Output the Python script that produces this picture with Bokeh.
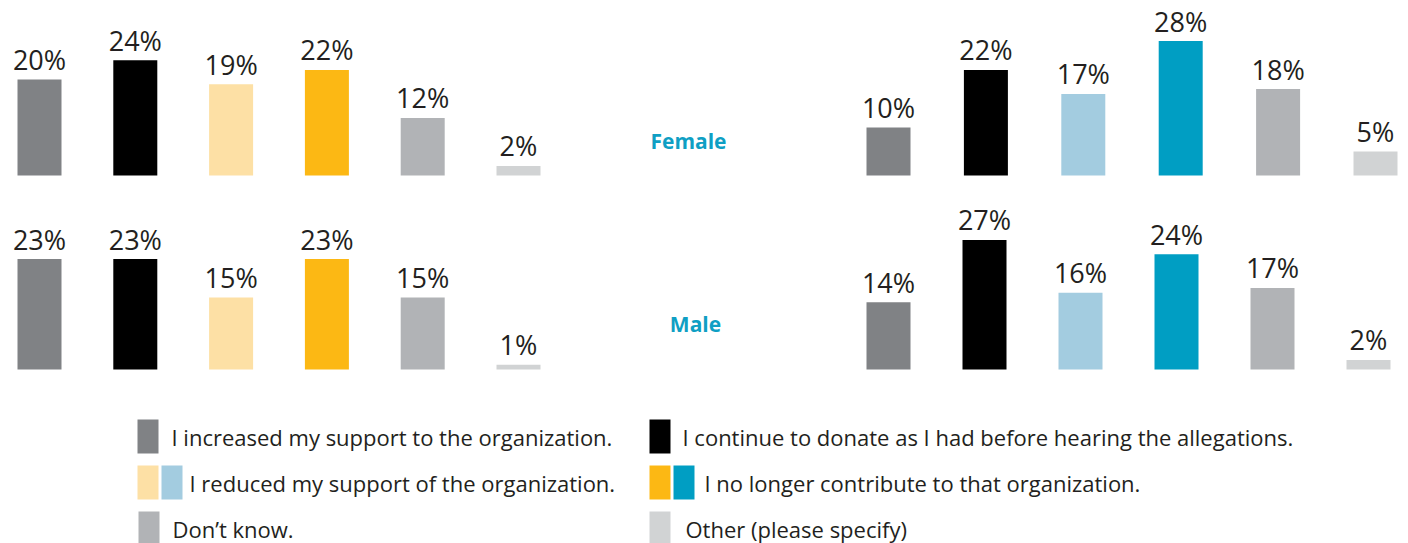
from bokeh.plotting import figure
from bokeh.models import Range1d, Label, ColumnDataSource
from bokeh.transform import dodge
from bokeh.embed import file_html
from bokeh.resources import INLINE
from bokeh.core.properties import value

# ---- data ----
answers = ["I increased my support to the organization.",
           "I continue to donate as I had before hearing the allegations.",
           "I reduced my support of the organization.",
           "I no longer contribute to that organization.",
           "Don\u2019t know.",
           "Other (please specify)"]
groups = ["Female", "Male"]
left_female = [20, 24, 19, 22, 12, 2]
left_male = [23, 23, 15, 23, 15, 1]
right_female = [10, 22, 17, 28, 18, 5]
right_male = [14, 27, 16, 24, 17, 2]
left_colors = ["#808285", "#000000", "#fde0a5", "#fcb814", "#b1b3b6", "#d1d3d4"]
right_colors = ["#808285", "#000000", "#a3cce0", "#009ec3", "#b1b3b6", "#d1d3d4"]

W, H = 1408, 543
FONT = "Open Sans"
TXT = "#231f20"

p = figure(width=W, height=H, output_backend="svg", toolbar_location=None,
           x_axis_location=None, y_axis_location=None, min_border=0,
           x_range=Range1d(0, W), y_range=Range1d(H, 0))
p.outline_line_color = None
p.grid.visible = False
p.background_fill_color = "white"

PX_PER_PCT = 4.8
def xr(first_center, spacing):
    return Range1d(-first_center / spacing, (W - first_center) / spacing)
def yr(base_from_top):
    b = H - base_from_top
    return Range1d(-b / PX_PER_PCT, base_from_top / PX_PER_PCT)

spL, spRT, spRB = 95.8, 97.4, 96.0
p.extra_x_ranges = {"L": xr(39, spL), "RT": xr(888, spRT), "RB": xr(888, spRB)}
p.extra_y_ranges = {"top": yr(175), "bot": yr(369)}

idx = list(range(len(answers)))
panels = [(left_female, left_colors, "L", "top", spL),
          (left_male, left_colors, "L", "bot", spL),
          (right_female, right_colors, "RT", "top", spRT),
          (right_male, right_colors, "RB", "bot", spRB)]
LABEL_GAP = 20 / PX_PER_PCT
for vals, cols, xn, yn, sp in panels:
    src = ColumnDataSource(dict(x=idx, v=vals, c=cols, t=[f"{v}%" for v in vals]))
    p.vbar(x="x", top="v", bottom=0, width=44 / sp, fill_color="c", line_color=None,
           source=src, x_range_name=xn, y_range_name=yn)
    p.text(x="x", y=dodge("v", LABEL_GAP, range=p.extra_y_ranges[yn]), text="t",
           source=src, x_range_name=xn, y_range_name=yn,
           text_align="center", text_baseline="alphabetic",
           text_font=value(FONT), text_font_size="27px", text_color=TXT)

# group labels
for g, (gx, gy) in zip(groups, [(688, 140), (695, 323)]):
    p.add_layout(Label(x=gx, y=gy, text=g, text_align="center", text_baseline="middle",
                       text_font=FONT, text_font_size="21px", text_font_style="bold",
                       text_color="#0f9fc4"))

# legend
leg = [  # (answer index, swatch colors, x of first swatch, text x, row y center)
    (0, [left_colors[0]], 137, 171, 436),
    (1, [left_colors[1]], 649, 682, 436),
    (2, [left_colors[2], right_colors[2]], 137, 189, 482),
    (3, [left_colors[3], right_colors[3]], 649, 704, 482),
    (4, [left_colors[4]], 138, 172, 528),
    (5, [left_colors[5]], 649, 685, 528),
]
for ai, cols, sx, tx, cy in leg:
    for k, c in enumerate(cols):
        p.quad(left=sx + 24 * k, right=sx + 24 * k + 21, top=cy - 17, bottom=cy + 17,
               fill_color=c, line_color=None)
    p.text(x=[tx], y=[cy], text=[answers[ai]], text_align="left", text_baseline="middle",
           text_font=value(FONT), text_font_size="22px", text_color=TXT)

open("out.html", "w").write(file_html(p, INLINE))
